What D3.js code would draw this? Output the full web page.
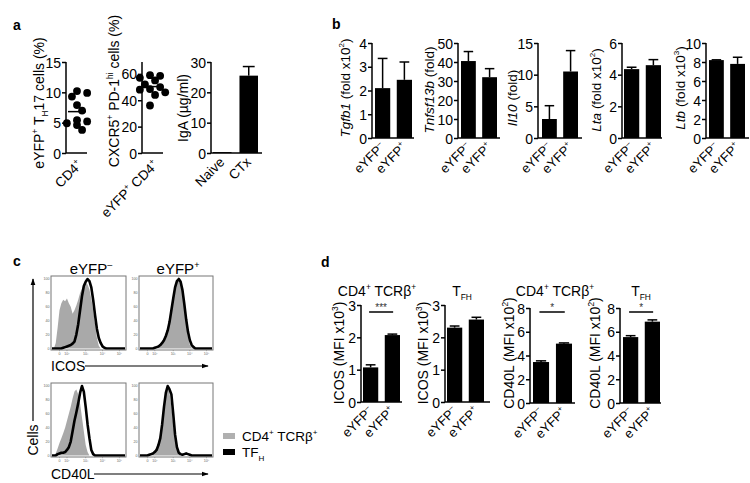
<!DOCTYPE html>
<html><head><meta charset="utf-8">
<script src="https://cdn.jsdelivr.net/npm/d3@7"></script>
<style>body{margin:0;background:#fff} svg{display:block;font-family:"Liberation Sans",Arial,sans-serif}</style>
</head><body><svg id="c" width="750" height="483"></svg>
<script>
// ---------------- DATA ----------------
const scatterCD4 = [10.2, 9.9, 9.3, 7.9, 7.0, 5.4, 5.2, 4.9, 4.6, 3.8];
const scatterTfh = [59, 58.5, 57, 55, 52, 50, 48.5, 48, 46, 44, 36];
const igaCats = ["Naive", "CTx"];
const igaValues = [0.3, 25.5];
const igaErrors = [0, 3.0];

const groupCats = ["eYFP^{–}", "eYFP^{+}"];
const tgfb1Values = [2.1, 2.45], tgfb1Errors = [1.25, 0.75];
const tnfsf13bValues = [40.5, 32], tnfsf13bErrors = [5, 4.5];
const il10Values = [3.0, 10.5], il10Errors = [2.1, 3.3];
const ltaValues = [4.35, 4.6], ltaErrors = [0.12, 0.35];
const ltbValues = [8.2, 7.8], ltbErrors = [0.03, 0.7];

const icosCd4Values = [1.07, 2.07], icosCd4Errors = [0.08, 0.03];
const icosTfhValues = [2.3, 2.55], icosTfhErrors = [0.05, 0.07];
const cd40lCd4Values = [3.45, 5.0], cd40lCd4Errors = [0.1, 0.06];
const cd40lTfhValues = [5.55, 6.85], cd40lTfhErrors = [0.12, 0.15];

// flow histograms (% of max) in 40 bins
const icosNegGray  = [0,0,8,30,55,65,70,68,72,65,60,50,55,62,70,80,86,92,95,92,85,72,55,35,15,4,0,0,0,0,0,0,0,0,0,0,0,0,0,0];
const icosNegBlack = [0,0,0,0,0,0,1,2,3,4,5,7,10,20,35,55,75,90,96,100,97,88,70,48,28,15,8,3,1,0,0,0,0,0,0,0,0,0,0,0];
const icosPosGray  = [0,0,0,0,0,0,0,0,2,3,5,7,10,15,22,30,42,58,72,86,95,100,94,80,60,36,16,5,1,0,0,0,0,0,0,0,0,0,0,0];
const icosPosBlack = [0,0,0,0,0,0,0,0,1,2,3,5,8,12,18,26,38,55,72,88,97,100,96,84,64,42,24,12,5,2,0,0,0,0,0,0,0,0,0,0];
const cd40lNegGray  = [0,0,3,10,18,25,32,40,50,60,70,82,92,95,88,75,55,35,15,5,0,0,0,0,0,0,0,0,0,0,0,0,0,0,0,0,0,0,0,0];
const cd40lNegBlack = [0,0,0,2,3,4,4,5,8,12,20,35,50,62,75,90,100,92,70,45,25,8,2,0,0,0,0,0,0,0,0,0,0,0,0,0,0,0,0,0];
const cd40lPosGray  = [0,0,0,0,0,2,3,5,8,12,20,30,50,70,85,97,90,70,45,25,10,3,0,0,0,0,0,0,0,0,0,0,0,0,0,0,0,0,0,0];
const cd40lPosBlack = [0,0,0,0,0,1,2,3,5,8,15,25,45,70,90,100,95,88,60,30,12,4,2,1,2,3,2,1,0,0,0,0,0,0,0,0,0,0,0,0];
const flowXTicks = [4, 8, 18, 27, 36];
const flowXTickLabels = ["0", "10²", "10³", "10⁴", "10⁵"];
const flowYTicks = [0, 20, 40, 60, 80, 100];

// ---------------- HELPERS ----------------
const svg = d3.select("#c");
const FONT_TICK = 14;

function rich(textSel, str) {
  const fs = parseFloat(textSel.attr("font-size"));
  const re = /(\^\{[^}]*\}|_\{[^}]*\}|\*[^*]*\*|[^\^_*]+)/g;
  let m, shift = 0;
  while ((m = re.exec(str))) {
    let s = m[0], type = "n";
    if (s.startsWith("^{")) { type = "sup"; s = s.slice(2, -1); }
    else if (s.startsWith("_{")) { type = "sub"; s = s.slice(2, -1); }
    else if (s.startsWith("*")) { type = "it"; s = s.slice(1, -1); }
    const target = type === "sup" ? -0.42 * fs : type === "sub" ? 0.3 * fs : 0;
    const t = textSel.append("tspan").text(s).attr("dy", target - shift);
    shift = target;
    if (type === "sup" || type === "sub") t.attr("font-size", fs * 0.6);
    if (type === "it") t.attr("font-style", "italic");
  }
  return textSel;
}

function label(x, y, str, opts = {}) {
  const t = svg.append("text")
    .attr("font-size", opts.fs || 13)
    .attr("text-anchor", opts.anchor || "middle")
    .attr("transform", `translate(${x},${y}) rotate(${opts.rot || 0})`)
    .attr("fill", opts.fill || "#000");
  if (opts.bold) t.attr("font-weight", "bold");
  return rich(t, str);
}

function leftAxis(g, y, ticks, axisX, yTop) {
  const a = g.append("g").attr("transform", `translate(${axisX},0)`)
    .call(d3.axisLeft(y).tickValues(ticks).tickSize(4).tickSizeOuter(0).tickFormat(d3.format("d")));
  a.attr("font-size", FONT_TICK).attr("font-family", "Liberation Sans, Arial, sans-serif");
  a.select(".domain").remove();
  a.selectAll(".tick line").attr("stroke", "#000").attr("stroke-width", 1.5);
  a.selectAll(".tick text").attr("font-size", FONT_TICK).attr("fill", "#000").attr("x", -5).attr("dy", "0.36em");
  g.append("line").attr("x1", axisX).attr("x2", axisX).attr("y1", y.range()[0]).attr("y2", yTop ?? y.range()[1])
    .attr("stroke", "#000").attr("stroke-width", 1.5);
}

function barChart(cfg) {
  const g = svg.append("g");
  const y = d3.scaleLinear().domain(cfg.domain).range([cfg.y0, cfg.y1]);
  const x = d3.scaleBand().domain(cfg.cats).range(cfg.range).paddingInner(cfg.pi ?? 0.3).paddingOuter(0);
  const bw = x.bandwidth();
  cfg.cats.forEach((c, i) => {
    const v = cfg.values[i], e = cfg.errors[i];
    g.append("rect").attr("x", x(c)).attr("y", y(v)).attr("width", bw).attr("height", y(0) - y(v)).attr("fill", "#000");
    if (e > 0) {
      const cx = x(c) + bw / 2;
      g.append("line").attr("x1", cx).attr("x2", cx).attr("y1", y(v)).attr("y2", y(v + e)).attr("stroke", "#000").attr("stroke-width", 1.5);
      g.append("line").attr("x1", cx - bw * 0.32).attr("x2", cx + bw * 0.32).attr("y1", y(v + e)).attr("y2", y(v + e)).attr("stroke", "#000").attr("stroke-width", 1.5);
    }
    label(x(c) + bw / 2 + (cfg.lxOff ?? 3), cfg.y0 + (cfg.lyOff ?? 10), c, { rot: -45, anchor: "end", fs: cfg.xfs || 13 });
  });
  leftAxis(g, y, cfg.ticks, cfg.axisX);
  g.append("line").attr("x1", cfg.axisX).attr("x2", cfg.endX).attr("y1", cfg.y0).attr("y2", cfg.y0).attr("stroke", "#000").attr("stroke-width", 1.5);
  label(cfg.labX, cfg.labY, cfg.ylabel, { rot: -90, fs: cfg.lfs || 13 });
  if (cfg.title) label(cfg.titleX, cfg.titleY, cfg.title, { fs: 14 });
  if (cfg.sig) {
    const xa = x(cfg.cats[0]) + bw * 0.4, xb = x(cfg.cats[1]) + bw * 0.55;
    g.append("line").attr("x1", xa).attr("x2", xb).attr("y1", cfg.sigY).attr("y2", cfg.sigY).attr("stroke", "#000").attr("stroke-width", 1.5);
    g.append("text").attr("x", (xa + xb) / 2).attr("y", cfg.sigY - 1.5).attr("font-size", 10).attr("text-anchor", "middle").attr("fill", "#333").text(cfg.sig);
  }
  return { x, y };
}

function scatterChart(cfg) {
  const g = svg.append("g");
  const y = d3.scaleLinear().domain(cfg.domain).range([cfg.y0, cfg.y1]);
  const r = 3.9;
  const placed = [];
  const sorted = cfg.values.slice().sort((a, b) => b - a);
  const offs = [0, 1, -1, 2, -2, 3, -3];
  sorted.forEach(v => {
    const py = y(v);
    let px = cfg.cx;
    for (const o of offs) {
      const cand = cfg.cx + o * r * 1.3;
      if (placed.every(p => Math.hypot(p[0] - cand, p[1] - py) >= r * 1.7)) { px = cand; break; }
    }
    placed.push([px, py]);
  });
  placed.forEach(p => g.append("circle").attr("cx", p[0]).attr("cy", p[1]).attr("r", r).attr("fill", "#000"));
  const m = d3.mean(cfg.values);
  g.append("line").attr("x1", cfg.cx - 9).attr("x2", cfg.cx + 9).attr("y1", y(m)).attr("y2", y(m)).attr("stroke", "#000").attr("stroke-width", 1.5);
  leftAxis(g, y, cfg.ticks, cfg.axisX, cfg.yTop);
  g.append("line").attr("x1", cfg.axisX).attr("x2", cfg.endX).attr("y1", cfg.y0).attr("y2", cfg.y0).attr("stroke", "#000").attr("stroke-width", 1.5);
  label(cfg.labX, cfg.labY, cfg.ylabel, { rot: -90, fs: 14 });
  label(cfg.xlx, cfg.xly, cfg.xlabel, { rot: -45, anchor: "end", fs: 13.5 });
}

function flowBox(x0, x1, y0, y1, gray, black) {
  const g = svg.append("g");
  const x = d3.scaleLinear().domain([0, gray.length - 1]).range([x0 + 1, x1 - 1]);
  const y = d3.scaleLinear().domain([0, 100]).range([y1 - 1.5, y0 + 3]);
  g.append("path").datum(gray).attr("d", d3.area().x((d, i) => x(i)).y0(y(0)).y1(d => y(d))).attr("fill", "#a9a9a9");
  g.append("path").datum(black).attr("d", d3.line().x((d, i) => x(i)).y(d => y(d))).attr("fill", "none").attr("stroke", "#000").attr("stroke-width", 2.6).attr("stroke-linejoin", "round");
  g.append("rect").attr("x", x0).attr("y", y0).attr("width", x1 - x0).attr("height", y1 - y0).attr("fill", "none").attr("stroke", "#777").attr("stroke-width", 1);
  flowXTicks.forEach((t, i) => {
    g.append("text").attr("x", x(t)).attr("y", y1 + 5).attr("font-size", 3.6).attr("fill", "#666").attr("text-anchor", "middle").text(flowXTickLabels[i]);
    g.append("line").attr("x1", x(t)).attr("x2", x(t)).attr("y1", y1).attr("y2", y1 + 1.2).attr("stroke", "#777").attr("stroke-width", 0.5);
  });
  flowYTicks.forEach(t => {
    g.append("text").attr("x", x0 - 1.5).attr("y", y(t) + 1.2).attr("font-size", 3.6).attr("fill", "#666").attr("text-anchor", "end").text(t);
  });
}

// arrow marker
svg.append("defs").append("marker").attr("id", "arr").attr("viewBox", "0 0 10 10").attr("refX", 9).attr("refY", 5)
  .attr("markerWidth", 6).attr("markerHeight", 6).attr("orient", "auto-start-reverse")
  .append("path").attr("d", "M0,1.5 L10,5 L0,8.5 Z").attr("fill", "#000");

// ---------------- PANEL LETTERS ----------------
label(13, 30, "a", { fs: 14, bold: true, anchor: "start" });
label(332, 29, "b", { fs: 14, bold: true, anchor: "start" });
label(13, 266, "c", { fs: 14, bold: true, anchor: "start" });
label(321, 267, "d", { fs: 14, bold: true, anchor: "start" });

// ---------------- PANEL A ----------------
scatterChart({ values: scatterCD4, domain: [0, 15], ticks: [0, 5, 10, 15], y0: 153, y1: 62, axisX: 66, endX: 87, cx: 77,
  ylabel: "eYFP^{+} T_{H}17 cells (%)", labX: 44, labY: 103, xlabel: "CD4^{+}", xlx: 83, xly: 166 });
scatterChart({ values: scatterTfh, domain: [0, 69], ticks: [0, 20, 40, 60], y0: 153, y1: 62, axisX: 142, endX: 163, cx: 150,
  ylabel: "CXCR5^{+} PD-1^{hi} cells (%)", labX: 119, labY: 91, xlabel: "eYFP^{+} CD4^{+}", xlx: 159, xly: 166 });
barChart({ cats: igaCats, values: igaValues, errors: igaErrors, domain: [0, 30], ticks: [0, 10, 20, 30], y0: 153, y1: 62,
  axisX: 211, endX: 262, range: [213, 258], ylabel: "IgA (µg/ml)", labX: 188, labY: 108, lfs: 14, xfs: 13.5, lxOff: 3, lyOff: 10 });

// ---------------- PANEL B ----------------
const bCharts = [
  { v: tgfb1Values, e: tgfb1Errors, d: [0, 4], t: [0, 1, 2, 3, 4], ax: 372, end: 414, r: [375, 412], lab: "*Tgfb1* (fold x10^{2})", lx: 350, ly: 88 },
  { v: tnfsf13bValues, e: tnfsf13bErrors, d: [0, 50], t: [0, 10, 20, 30, 40, 50], ax: 458, end: 500, r: [461, 497], lab: "*Tnfsf13b* (fold)", lx: 434, ly: 90 },
  { v: il10Values, e: il10Errors, d: [0, 15], t: [0, 5, 10, 15], ax: 538, end: 582, r: [542, 578], lab: "*Il10* (fold)", lx: 517, ly: 98 },
  { v: ltaValues, e: ltaErrors, d: [0, 6], t: [0, 2, 4, 6], ax: 622, end: 662, r: [624, 661], lab: "*Lta* (fold x10^{2})", lx: 601, ly: 90 },
  { v: ltbValues, e: ltbErrors, d: [0, 10], t: [0, 2, 4, 6, 8, 10], ax: 706, end: 749, r: [709, 745], lab: "*Ltb* (fold x10^{3})", lx: 685, ly: 88 }
];
bCharts.forEach(c => barChart({ cats: groupCats, values: c.v, errors: c.e, domain: c.d, ticks: c.t, y0: 138, y1: 43,
  axisX: c.ax, endX: c.end, range: c.r, ylabel: c.lab, labX: c.lx, labY: c.ly, lfs: 13.5, lxOff: 3, lyOff: 10 }));

// ---------------- PANEL C ----------------
label(91, 274, "eYFP^{–}", { fs: 15 });
label(178, 274, "eYFP^{+}", { fs: 15 });
flowBox(51, 126, 276, 350, icosNegGray, icosNegBlack);
flowBox(139, 213, 276, 350, icosPosGray, icosPosBlack);
flowBox(51, 126, 383, 457, cd40lNegGray, cd40lNegBlack);
flowBox(139, 213, 383, 457, cd40lPosGray, cd40lPosBlack);
svg.append("line").attr("x1", 33).attr("x2", 33).attr("y1", 421).attr("y2", 279).attr("stroke", "#000").attr("stroke-width", 1.2).attr("marker-end", "url(#arr)");
label(38, 440, "Cells", { rot: -90, fs: 14 });
label(51, 371, "ICOS", { anchor: "start", fs: 14 });
svg.append("line").attr("x1", 85).attr("x2", 208).attr("y1", 366).attr("y2", 366).attr("stroke", "#000").attr("stroke-width", 1.2).attr("marker-end", "url(#arr)");
label(51, 479, "CD40L", { anchor: "start", fs: 14 });
svg.append("line").attr("x1", 94).attr("x2", 208).attr("y1", 474).attr("y2", 474).attr("stroke", "#000").attr("stroke-width", 1.2).attr("marker-end", "url(#arr)");
// legend
svg.append("rect").attr("x", 223).attr("y", 433).attr("width", 12).attr("height", 6).attr("fill", "#b0b0b0");
label(242, 441, "CD4^{+} TCRβ^{+}", { anchor: "start", fs: 13.5 });
svg.append("rect").attr("x", 223).attr("y", 449).attr("width", 12).attr("height", 6).attr("fill", "#000");
label(242, 457, "TF_{H}", { anchor: "start", fs: 13.5 });

// ---------------- PANEL D ----------------
barChart({ cats: groupCats, values: icosCd4Values, errors: icosCd4Errors, domain: [0, 3], ticks: [0, 1, 2, 3], y0: 402, y1: 305,
  axisX: 361, endX: 402, range: [363, 400], ylabel: "ICOS (MFI x10^{3})", labX: 344, labY: 353, lfs: 14,
  title: "CD4^{+} TCRβ^{+}", titleX: 377, titleY: 296, sig: "***", sigY: 312 });
barChart({ cats: groupCats, values: icosTfhValues, errors: icosTfhErrors, domain: [0, 3], ticks: [0, 1, 2, 3], y0: 402, y1: 305,
  axisX: 445, endX: 490, range: [447, 484], ylabel: "ICOS (MFI x10^{3})", labX: 428, labY: 353, lfs: 14,
  title: "T_{FH}", titleX: 462, titleY: 296 });
barChart({ cats: groupCats, values: cd40lCd4Values, errors: cd40lCd4Errors, domain: [0, 8], ticks: [0, 2, 4, 6, 8], y0: 403, y1: 308,
  axisX: 530, endX: 575, range: [533, 572], ylabel: "CD40L (MFI x10^{2})", labX: 514, labY: 353, lfs: 14,
  title: "CD4^{+} TCRβ^{+}", titleX: 555, titleY: 296, sig: "*", sigY: 312 });
barChart({ cats: groupCats, values: cd40lTfhValues, errors: cd40lTfhErrors, domain: [0, 8], ticks: [0, 2, 4, 6, 8], y0: 403, y1: 308,
  axisX: 620, endX: 661, range: [623, 660], ylabel: "CD40L (MFI x10^{2})", labX: 600, labY: 353, lfs: 14,
  title: "T_{FH}", titleX: 641, titleY: 296, sig: "*", sigY: 312 });
</script></body></html>
